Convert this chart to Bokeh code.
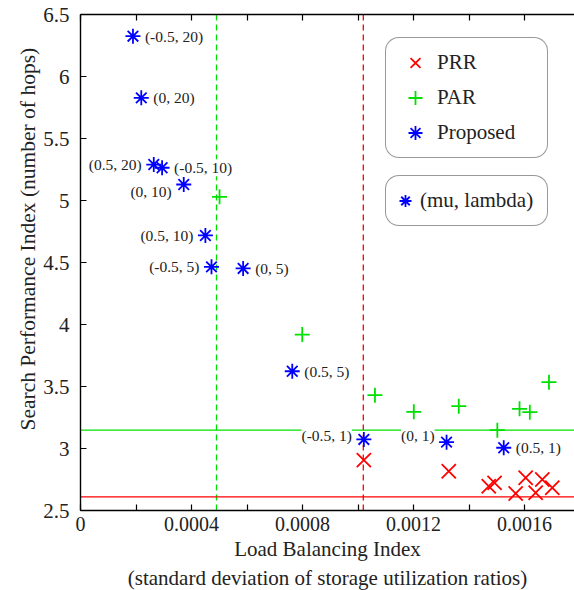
from bokeh.plotting import figure
from bokeh.models import (ColumnDataSource, Span, LabelSet, Title, Legend, LegendItem, LinearAxis,
                          FixedTicker, NumeralTickFormatter, CustomJSTickFormatter, Range1d)
from bokeh.core.properties import value, field
from bokeh.embed import file_html
from bokeh.resources import INLINE

# ---------------- data ----------------
prr_x = [0.001021, 0.001327, 0.001471, 0.001492, 0.001568, 0.001604, 0.001640, 0.001664, 0.001700]
prr_y = [2.906, 2.817, 2.696, 2.723, 2.637, 2.764, 2.643, 2.750, 2.683]

par_x = [0.000501, 0.000799, 0.001061, 0.001201, 0.001363, 0.001502, 0.001582, 0.001619, 0.001688]
par_y = [5.030, 3.919, 3.430, 3.296, 3.341, 3.148, 3.320, 3.293, 3.535]

prop_x = [0.000189, 0.000219, 0.000264, 0.000294, 0.000372, 0.000450,
          0.000472, 0.000586, 0.000763, 0.001021, 0.001319, 0.001525]
prop_y = [6.325, 5.828, 5.290, 5.264, 5.129, 4.718,
          4.465, 4.452, 3.623, 3.073, 3.051, 3.006]
prop_labels = ["(-0.5, 20)", "(0, 20)", "(0.5, 20)", "(-0.5, 10)", "(0, 10)", "(0.5, 10)",
               "(-0.5, 5)", "(0, 5)", "(0.5, 5)", "(-0.5, 1)", "(0, 1)", "(0.5, 1)"]

# reference lines
par_ref_x = 0.00049
par_ref_y = 3.148
prr_ref_x = 0.001019
prr_ref_y = 2.61

x_ticks = [0, 0.0004, 0.0008, 0.0012, 0.0016]
x_minor_ticks = [0.0002, 0.0006, 0.0010, 0.0014]
y_ticks = [2.5, 3, 3.5, 4, 4.5, 5, 5.5, 6, 6.5]

x_title = "Load Balancing Index"
x_subtitle = "(standard deviation of storage utilization ratios)"
y_title = "Search Performance Index (number of hops)"

# label placement (style)
label_side = ["left", "left", "right", "left", "right", "right",
              "right", "left", "left", "right", "right", "left"]
label_dy = [0, 0, 0, 0, -7, 0, 0, 0, 0, 4, 7, 0]

# ---------------- styling ----------------
FONT = "Liberation Serif"
RED = "#ff0000"
GREEN = "#00e000"
BLUE = "#0000ff"
TXT = "#222222"

p = figure(width=574, height=590,
           x_range=Range1d(0, 0.001780), y_range=Range1d(2.5, 6.5),
           output_backend="svg", toolbar_location=None,
           min_border_left=80, min_border_right=0, min_border_top=14, min_border_bottom=79,
           x_axis_location=None, y_axis_location=None)
p.xgrid.visible = False
p.ygrid.visible = False
p.outline_line_color = None
p.background_fill_color = "white"
p.border_fill_color = "white"

xticker = FixedTicker(ticks=x_ticks, minor_ticks=x_minor_ticks)
all_x = sorted(x_ticks + x_minor_ticks)

def style_axis(ax):
    ax.axis_line_color = "black"
    ax.axis_line_width = 1.4
    ax.major_tick_line_color = "black"
    ax.major_tick_line_width = 1.2
    ax.minor_tick_line_color = "black"
    ax.minor_tick_line_width = 1.2
    ax.major_tick_in = 6
    ax.major_tick_out = 0
    ax.minor_tick_in = 6
    ax.minor_tick_out = 0
    ax.major_label_text_font = FONT
    ax.major_label_text_color = TXT

xaxis = LinearAxis(ticker=xticker, formatter=NumeralTickFormatter(format="0.[0000]"))
style_axis(xaxis)
xaxis.major_label_text_font_size = "20px"
xaxis.major_label_standoff = 6
p.add_layout(xaxis, "below")

topaxis = LinearAxis(ticker=FixedTicker(ticks=all_x, minor_ticks=[]),
                     formatter=CustomJSTickFormatter(code="return ''"))
style_axis(topaxis)
topaxis.major_label_standoff = 0
p.add_layout(topaxis, "above")

yaxis = LinearAxis(ticker=FixedTicker(ticks=y_ticks, minor_ticks=[]),
                   formatter=NumeralTickFormatter(format="0.[0]"))
style_axis(yaxis)
yaxis.major_label_text_font_size = "21px"
yaxis.major_label_standoff = 11
p.add_layout(yaxis, "left")

# axis titles as side-panel titles
def side_title(text, size, standoff, **kw):
    return Title(text=text, text_font=FONT, text_font_size=size, text_font_style="normal",
                 text_color=TXT, standoff=standoff, **kw)

p.add_layout(side_title(x_title, "21px", 5, align="center", vertical_align="middle"), "below")
p.add_layout(side_title(x_subtitle, "21px", 0, align="center", vertical_align="middle"), "below")
p.add_layout(side_title(y_title, "21.5px", 0, align="left", vertical_align="middle", offset=80), "left")

# reference lines
p.add_layout(Span(location=par_ref_x, dimension="height", line_color=GREEN,
                  line_width=1.3, line_dash="6 4", level="underlay"))
p.add_layout(Span(location=prr_ref_x, dimension="height", line_color=RED,
                  line_width=1.3, line_dash="6 4", level="underlay"))
p.add_layout(Span(location=par_ref_y, dimension="width", line_color=GREEN,
                  line_width=1.3, level="underlay"))
p.add_layout(Span(location=prr_ref_y, dimension="width", line_color=RED,
                  line_width=1.3, level="underlay"))

# markers
r_prr = p.scatter(prr_x, prr_y, marker="x", size=20, line_color=RED, line_width=1.8)
r_par = p.scatter(par_x, par_y, marker="cross", size=15, line_color=GREEN, line_width=1.8)
r_prop = p.scatter(prop_x, prop_y, marker="asterisk", size=15, line_color=BLUE, line_width=1.8)

# labels
lab_src = ColumnDataSource(dict(
    x=prop_x, y=prop_y, text=prop_labels,
    align=label_side,
    xo=[12 if s == "left" else -12 for s in label_side],
    yo=label_dy,
))
labels = LabelSet(x="x", y="y", text="text", source=lab_src,
                  x_offset="xo", y_offset="yo", text_align=field("align"),
                  text_baseline="middle", text_font=value(FONT), text_font_size="15.5px",
                  text_color=TXT, background_fill_color="white")
p.add_layout(labels)

# legends
leg_opts = dict(border_line_color="#333333", border_line_width=1.5, margin=0,
                background_fill_color="white", background_fill_alpha=1.0,
                label_text_font=FONT, label_text_font_size="21px", label_text_color=TXT,
                spacing=0, label_standoff=0)
if "border_radius" in Legend.properties():
    leg_opts["border_radius"] = 14

legend1 = Legend(items=[LegendItem(label="PRR", renderers=[r_prr]),
                        LegendItem(label="PAR", renderers=[r_par]),
                        LegendItem(label="Proposed", renderers=[r_prop])],
                 location=(305, 352), padding=7,
                 glyph_height=35, glyph_width=44, label_height=35, label_width=103,
                 **leg_opts)
legend2 = Legend(items=[LegendItem(label="(mu, lambda)", renderers=[r_prop])],
                 location=(305, 284), padding=4,
                 glyph_height=41, glyph_width=30, label_height=41, label_width=123,
                 **leg_opts)
p.add_layout(legend1)
p.add_layout(legend2)

open("out.html", "w").write(file_html(p, INLINE))
